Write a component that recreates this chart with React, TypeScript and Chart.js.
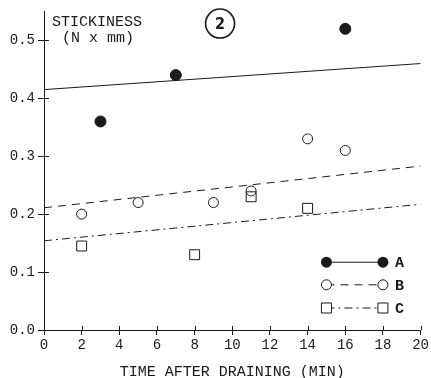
import { useEffect, useRef } from "react";
import { Chart, registerables } from "chart.js";
Chart.register(...registerables);

const xTicks = [0, 2, 4, 6, 8, 10, 12, 14, 16, 18, 20];
const yTicks = [0, 0.1, 0.2, 0.3, 0.4, 0.5];
const timeA = [3, 7, 16];
const stickA = [0.36, 0.44, 0.52];
const timeB = [2, 5, 9, 11, 14, 16];
const stickB = [0.2, 0.22, 0.22, 0.24, 0.33, 0.31];
const timeC = [2, 8, 11, 14];
const stickC = [0.145, 0.13, 0.23, 0.21];
const fitX = [0, 20];
const fitA = [0.415, 0.46];
const fitB = [0.211, 0.283];
const fitC = [0.154, 0.217];
const seriesLabels = ["A", "B", "C"];
const yTitle = ["STICKINESS", "(N x mm)"];
const xTitle = "TIME AFTER DRAINING (MIN)";
const panelLabel = "2";

const INK = "#1a1a1a";
const MONO = "'Liberation Mono', 'DejaVu Sans Mono', monospace";
const DASH_B = [8, 6];
const DASH_C = [8, 4, 2, 4];

const pts = (xs: number[], ys: number[]) => xs.map((x, i) => ({ x, y: ys[i] }));

const decorPlugin = {
  id: "decor",
  afterDraw(chart: any) {
    const { ctx, chartArea, scales } = chart;
    const xs = scales.x, ys = scales.y;
    ctx.save();
    ctx.strokeStyle = INK;
    ctx.lineWidth = 1;
    // inner tick marks
    ctx.beginPath();
    for (const v of yTicks) {
      const py = Math.round(ys.getPixelForValue(v)) + 0.5;
      ctx.moveTo(chartArea.left, py);
      ctx.lineTo(chartArea.left + 5, py);
    }
    for (const v of xTicks) {
      const px = Math.round(xs.getPixelForValue(v)) + 0.5;
      ctx.moveTo(px, chartArea.bottom);
      ctx.lineTo(px, chartArea.bottom - 4);
    }
    ctx.stroke();

    // y title
    ctx.fillStyle = INK;
    ctx.font = `15px ${MONO}`;
    ctx.textBaseline = "middle";
    ctx.textAlign = "left";
    ctx.fillText(yTitle[0], chartArea.left + 8, 22);
    ctx.fillText(yTitle[1], chartArea.left + 18, 38);

    // x title
    ctx.textAlign = "center";
    ctx.fillText(xTitle, (chartArea.left + chartArea.right) / 2, 372);

    // panel label circle
    const cx = xs.getPixelForValue(9.35), cy = ys.getPixelForValue(0.529);
    ctx.beginPath();
    ctx.lineWidth = 1.6;
    ctx.arc(cx, cy, 14.5, 0, Math.PI * 2);
    ctx.stroke();
    ctx.font = `bold 16px 'DejaVu Sans Condensed', 'DejaVu Sans', sans-serif`;
    ctx.fillText(panelLabel, cx, cy + 1);

    // legend
    const x1 = xs.getPixelForValue(15), x2 = xs.getPixelForValue(18);
    const rowsY = [0.117, 0.078, 0.038].map((v) => ys.getPixelForValue(v));
    const dashes = [[], DASH_B, DASH_C];
    rowsY.forEach((py, i) => {
      ctx.lineWidth = 1;
      ctx.setLineDash(dashes[i]);
      ctx.beginPath();
      ctx.moveTo(x1, py);
      ctx.lineTo(x2, py);
      ctx.stroke();
      ctx.setLineDash([]);
      for (const px of [x1, x2]) {
        ctx.beginPath();
        if (i === 0) {
          ctx.arc(px, py, 5.5, 0, Math.PI * 2);
          ctx.fillStyle = INK;
          ctx.fill();
        } else if (i === 1) {
          ctx.arc(px, py, 5, 0, Math.PI * 2);
          ctx.fillStyle = "#fff";
          ctx.fill();
          ctx.stroke();
        } else {
          ctx.rect(px - 5, py - 5, 10, 10);
          ctx.fillStyle = "#fff";
          ctx.fill();
          ctx.stroke();
        }
      }
      ctx.fillStyle = INK;
      ctx.font = `bold 15px ${MONO}`;
      ctx.textAlign = "left";
      ctx.fillText(seriesLabels[i], x2 + 12, py + 1);
    });
    ctx.restore();
  },
};

export default function App() {
  const ref = useRef<HTMLCanvasElement>(null);
  useEffect(() => {
    document.body.style.margin = "0";
    const chart = new Chart(ref.current!, {
      type: "scatter",
      data: {
        datasets: [
          {
            type: "line",
            label: "fitA",
            data: pts(fitX, fitA),
            borderColor: INK,
            borderWidth: 1,
            pointRadius: 0,
            showLine: true,
          },
          {
            type: "line",
            label: "fitB",
            data: pts(fitX, fitB),
            borderColor: INK,
            borderWidth: 1,
            borderDash: DASH_B,
            pointRadius: 0,
            showLine: true,
          },
          {
            type: "line",
            label: "fitC",
            data: pts(fitX, fitC),
            borderColor: INK,
            borderWidth: 1,
            borderDash: DASH_C,
            pointRadius: 0,
            showLine: true,
          },
          {
            label: seriesLabels[0],
            data: pts(timeA, stickA),
            pointStyle: "circle",
            pointRadius: 5.5,
            backgroundColor: INK,
            borderColor: INK,
            borderWidth: 1,
          },
          {
            label: seriesLabels[1],
            data: pts(timeB, stickB),
            pointStyle: "circle",
            pointRadius: 5,
            backgroundColor: "rgba(255,255,255,0)",
            borderColor: INK,
            borderWidth: 1,
          },
          {
            label: seriesLabels[2],
            data: pts(timeC, stickC),
            pointStyle: "rect",
            pointRadius: 7,
            backgroundColor: "rgba(255,255,255,0)",
            borderColor: INK,
            borderWidth: 1,
          },
        ],
      },
      options: {
        animation: false,
        responsive: false,
        layout: { padding: { top: 11, right: 9, left: 0, bottom: 0 } },
        plugins: { legend: { display: false }, tooltip: { enabled: false } },
        scales: {
          x: {
            type: "linear",
            min: 0,
            max: 20,
            afterBuildTicks: (s: any) => {
              s.ticks = xTicks.map((value) => ({ value }));
            },
            afterFit: (s: any) => {
              s.height = 48;
            },
            grid: { drawOnChartArea: false, tickLength: 5, color: INK },
            border: { color: INK, width: 1 },
            ticks: { font: { family: MONO, size: 14 }, color: INK, padding: 2, maxRotation: 0 },
          },
          y: {
            type: "linear",
            min: 0,
            max: 0.55,
            afterBuildTicks: (s: any) => {
              s.ticks = yTicks.map((value) => ({ value }));
            },
            afterFit: (s: any) => {
              s.width = 44;
            },
            grid: { drawOnChartArea: false, tickLength: 6, color: INK },
            border: { color: INK, width: 1 },
            ticks: {
              font: { family: MONO, size: 14 },
              color: INK,
              padding: 3,
              callback: (v: any) => Number(v).toFixed(1),
            },
          },
        },
      },
      plugins: [decorPlugin],
    });
    return () => chart.destroy();
  }, []);
  return <canvas ref={ref} width={431} height={378} style={{ display: "block" }} />;
}
